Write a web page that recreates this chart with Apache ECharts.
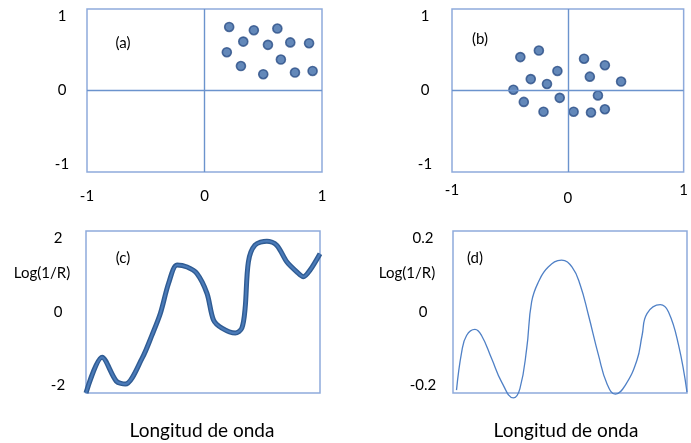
<!DOCTYPE html>
<html>
<head>
<meta charset="utf-8">
<script src="https://cdn.jsdelivr.net/npm/echarts@6/dist/echarts.min.js"></script>
<style>
  html, body { margin: 0; padding: 0; background: #fff; }
  #chart { width: 691px; height: 443px; }
</style>
</head>
<body>
<div id="chart"></div>
<script>
// Panel (a): score cloud sitting in the upper-right quadrant
const scoresA_x = [0.21, 0.42, 0.62, 0.33, 0.54, 0.73, 0.89, 0.19, 0.65, 0.31, 0.50, 0.77, 0.92];
const scoresA_y = [0.78, 0.74, 0.76, 0.60, 0.56, 0.59, 0.58, 0.47, 0.38, 0.30, 0.20, 0.22, 0.24];

// Panel (b): same scores after centring
const scoresB_x = [-0.41, -0.25, 0.14, 0.32, -0.09, -0.32, 0.19, -0.18, 0.46, -0.47, 0.26, -0.07, -0.38, -0.21, 0.05, 0.20, 0.32];
const scoresB_y = [0.41, 0.49, 0.39, 0.31, 0.24, 0.14, 0.17, 0.08, 0.11, 0.01, -0.06, -0.09, -0.14, -0.26, -0.26, -0.27, -0.23];

// Panel (c): raw spectrum, Log(1/R) against wavelength position (0-100)
const specC_x = [0, 6.9, 13.0, 16.8, 24.0, 28.2, 31.8, 35.3, 38.9, 43.2, 47.4, 51.7, 54.5, 58.1, 63.8, 66.6, 68.0, 69.4, 72.2, 77.3, 81.5, 85.8, 90.1, 92.9, 95.7, 100];
const specC_y = [-2.0, -1.12, -1.71, -1.78, -1.14, -0.57, -0.03, 0.71, 1.16, 1.11, 0.95, 0.46, -0.20, -0.40, -0.52, -0.40, 0.09, 1.24, 1.65, 1.75, 1.65, 1.24, 0.99, 0.87, 1.03, 1.44];

// Panel (d): the pretreated (derivative-like) spectrum
const specD_x = [1.5, 3.7, 5.8, 9.4, 12.2, 16.5, 20.8, 25.8, 28.6, 31.5, 33.6, 36.5, 40.7, 46.4, 50.9, 54.4, 57.9, 62.2, 65.8, 69.4, 73.6, 78.6, 80.8, 82.9, 88.6, 92.1, 96.4, 100];
const specD_y = [-0.193, -0.099, -0.058, -0.043, -0.058, -0.115, -0.173, -0.212, -0.189, -0.090, 0.025, 0.074, 0.111, 0.128, 0.111, 0.066, -0.008, -0.107, -0.177, -0.203, -0.181, -0.119, -0.058, -0.004, 0.018, 0.000, -0.082, -0.198];

// Axis ranges / tick values
const ticksScore = [-1, 0, 1];
const ticksC = [-2, 0, 2];
const ticksD = [-0.2, 0, 0.2];

const panelTags = ['(a)', '(b)', '(c)', '(d)'];
const yTitle = 'Log(1/R)';
const xTitle = 'Longitud de onda';

const FONT = 'Lato, "Open Sans", sans-serif';
const pair = (xs, ys) => xs.map((x, i) => [x, ys[i]]);

const frame = { show: true, borderColor: '#8EAADB', borderWidth: 1.5, backgroundColor: 'transparent' };
const grids = [
  Object.assign({ left: 87,  top: 9,   width: 235, height: 163 }, frame),
  Object.assign({ left: 452, top: 9,   width: 235, height: 163 }, frame),
  Object.assign({ left: 86,  top: 231, width: 234, height: 162 }, frame),
  Object.assign({ left: 453, top: 231, width: 234, height: 162 }, frame)
];

const baseLabel = { color: '#000', fontSize: 15, fontFamily: FONT, showMinLabel: true, showMaxLabel: true };

function valueAxis(gridIndex, ticks, label, show) {
  return {
    type: 'value',
    gridIndex: gridIndex,
    min: ticks[0],
    max: ticks[ticks.length - 1],
    interval: ticks[1] - ticks[0],
    axisLine: { show: false, onZero: false },
    axisTick: { show: false },
    splitLine: { show: false },
    axisLabel: Object.assign({ show: show }, baseLabel, label)
  };
}

const yLabel = (margin) => ({
  margin: margin,
  align: 'center',
  verticalAlignMaxLabel: 'top',
  verticalAlignMinLabel: 'bottom'
});

const xAxes = [
  valueAxis(0, ticksScore, { margin: 17 }, true),
  valueAxis(1, ticksScore, {
    margin: 11,
    formatter: v => v === 0 ? '{low|0}' : '{n|' + v + '}',
    rich: { n: { fontSize: 15, fontFamily: FONT, color: '#000' }, low: { fontSize: 15, fontFamily: FONT, color: '#000', padding: [8, 0, 0, 0] } }
  }, true),
  valueAxis(2, [0, 100], {}, false),
  valueAxis(3, [0, 100], {}, false)
];

const yAxes = [
  valueAxis(0, ticksScore, yLabel(25), true),
  valueAxis(1, ticksScore, yLabel(27), true),
  valueAxis(2, ticksC, yLabel(28), true),
  valueAxis(3, ticksD, Object.assign(yLabel(30), { formatter: v => String(Math.round(v * 10) / 10) }), true)
];

const crossLines = {
  silent: true,
  symbol: 'none',
  label: { show: false },
  lineStyle: { color: '#6B93CD', width: 1.4, type: 'solid' },
  data: [{ xAxis: 0 }, { yAxis: 0 }]
};

const dotStyle = { color: '#3C6AA8', borderColor: '#2A4E86', borderWidth: 1.6 };

const series = [
  { type: 'scatter', xAxisIndex: 0, yAxisIndex: 0, symbolSize: 9, itemStyle: dotStyle,
    data: pair(scoresA_x, scoresA_y), markLine: crossLines, z: 3 },
  { type: 'scatter', xAxisIndex: 1, yAxisIndex: 1, symbolSize: 9, itemStyle: dotStyle,
    data: pair(scoresB_x, scoresB_y), markLine: crossLines, z: 3 },
  // spectral band: dark outer stroke with a lighter core
  { type: 'line', xAxisIndex: 2, yAxisIndex: 2, smooth: 0.3, showSymbol: false, clip: false,
    lineStyle: { color: '#2F5B92', width: 5 }, data: pair(specC_x, specC_y), z: 2 },
  { type: 'line', xAxisIndex: 2, yAxisIndex: 2, smooth: 0.3, showSymbol: false, clip: false,
    lineStyle: { color: '#4A7AB8', width: 2.2 }, data: pair(specC_x, specC_y), z: 3 },
  { type: 'line', xAxisIndex: 3, yAxisIndex: 3, smooth: 0.45, showSymbol: false, clip: false,
    lineStyle: { color: '#4F80C6', width: 1.3 }, data: pair(specD_x, specD_y), z: 3 }
];

const txt = (text, x, y, size) => ({
  type: 'text', x: x, y: y, silent: true,
  style: { text: text, fill: '#000', font: size + 'px ' + FONT, align: 'center', verticalAlign: 'middle' }
});

const graphic = [
  txt(panelTags[0], 123, 43, 15),
  txt(panelTags[1], 480, 39, 15),
  txt(panelTags[2], 123, 258, 15),
  txt(panelTags[3], 475, 258, 15),
  txt(yTitle, 42, 273, 15),
  txt(yTitle, 407, 273, 15),
  txt(xTitle, 202, 431, 19),
  txt(xTitle, 566, 431, 19)
];

const chart = echarts.init(document.getElementById('chart'), null, { renderer: 'canvas' });
chart.setOption({
  animation: false,
  backgroundColor: '#fff',
  grid: grids,
  xAxis: xAxes,
  yAxis: yAxes,
  series: series,
  graphic: graphic
});
</script>
</body>
</html>
